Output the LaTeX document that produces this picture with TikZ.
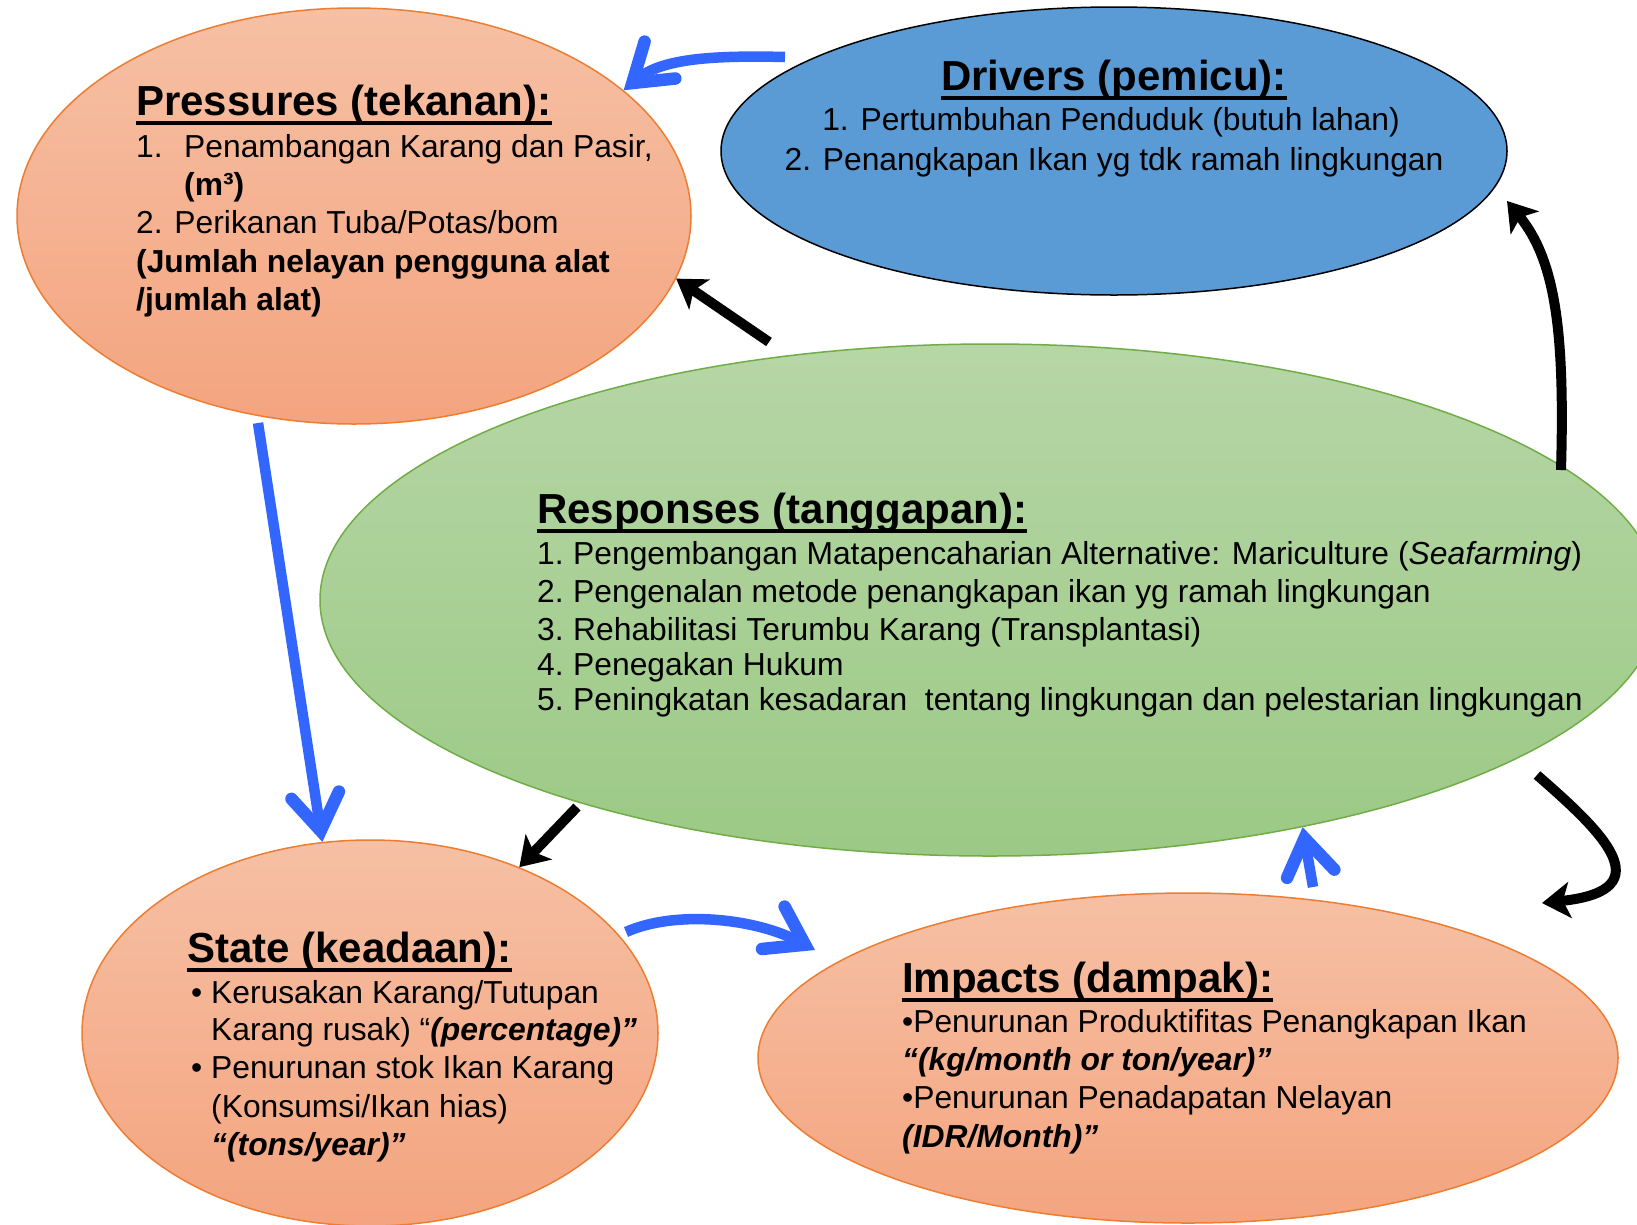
\documentclass[tikz,border=0pt]{standalone}
\usepackage{fontspec}
\setmainfont{Liberation Sans}
\usetikzlibrary{shapes.geometric,arrows.meta}
\definecolor{salmonT}{HTML}{F6C0A4}
\definecolor{salmonB}{HTML}{F4A47F}
\definecolor{salmonL}{HTML}{ED7D31}
\definecolor{greenT}{HTML}{B6D6A6}
\definecolor{greenB}{HTML}{9CC985}
\definecolor{greenL}{HTML}{70AD47}
\definecolor{drvblue}{HTML}{5B9BD5}
\definecolor{arrblue}{HTML}{3366FF}
\newcommand\ttl[1]{\setbox0\hbox{\bfseries #1}\rlap{\rule[-10pt]{\wd0}{4pt}}\box0}
\newcommand\bodysize{\fontsize{31.8}{38}\selectfont}
\newcommand\ttlsize{\fontsize{42}{50}\selectfont\bfseries}
\newcommand\bi[1]{\textbf{\textit{#1}}}
\begin{document}
\begin{tikzpicture}[x=1pt,y=-1pt,
  bubble/.style={ellipse, inner sep=0pt, line width=1.5pt},
  salmon/.style={bubble, draw=salmonL, top color=salmonT, bottom color=salmonB},
  txt/.style={anchor=base west, inner sep=0pt, font=\bodysize},
  ttlnode/.style={anchor=base west, inner sep=0pt, font=\ttlsize},
  bluearrow/.style={draw=arrblue, line width=10.5pt, -{Straight Barb[length=36pt,width=48pt,line width=12.5pt,line cap=round,line join=miter]}},
  blackarrow/.style={draw=black, line width=10pt, -{Stealth[length=28pt,width=36pt,inset=7pt]}}]
\fill[white] (0,0) rectangle (1637,1224);
\useasboundingbox (0,0) rectangle (1637,1224);

% ellipses
\node[salmon, minimum width=674pt, minimum height=416pt] (pres) at (354,216) {};
\node[bubble, draw=black, fill=drvblue, minimum width=786pt, minimum height=288pt] (drv) at (1114,151) {};
\node[bubble, draw=greenL, top color=greenT, bottom color=greenB, minimum width=1340pt, minimum height=512pt] (resp) at (990,600) {};
\node[salmon, minimum width=576pt, minimum height=386pt] (st) at (370,1033) {};
\node[salmon, minimum width=860pt, minimum height=330pt] (imp) at (1188,1058) {};

% free ends
\coordinate (b1s) at (785,57);
\coordinate (b2s) at (258,423);
\coordinate (b3s) at (626,932);
\coordinate (b3e) at (815,950);
\coordinate (b4s) at (1313,887);
\coordinate (k5s) at (769,342);
\coordinate (k6s) at (577,807);
\coordinate (k7s) at (1561,470);
\coordinate (k7e) at (1507,201);
\coordinate (k8s) at (1537,775);
\coordinate (k8e) at (1542,903);

% blue arrows
\draw[bluearrow] (b1s) .. controls (705,55) and (660,60) .. (pres.25);
\draw[bluearrow] (b2s) -- (st.104);
\draw[bluearrow] (b3s) .. controls (675,910) and (755,918) .. (b3e);
\draw[bluearrow] (b4s) -- (resp.-36);

% black arrows
\draw[blackarrow] (k5s) -- (pres.-11);
\draw[blackarrow] (k6s) -- (st.48);
\draw[blackarrow] (k7s) .. controls (1565,330) and (1555,260) .. (k7e);
\draw[blackarrow] (k8s) .. controls (1600,830) and (1665,890) .. (k8e);

% Pressures text
\node[ttlnode] (pt) at (136,115) {\ttl{Pressures (tekanan):}};
\node[txt] (p1) at (136,157) {\makebox[48pt][l]{1.}Penambangan Karang dan Pasir,};
\node[txt] (p2) at (184,195) {\textbf{(m³)}};
\node[txt] (p3) at (136,233) {2. Perikanan Tuba/Potas/bom};
\node[txt] (p4) at (136,272) {\textbf{(Jumlah nelayan pengguna alat}};
\node[txt] (p5) at (136,310) {\textbf{/jumlah alat)}};

% Drivers text
\node[ttlnode, anchor=base] (dt) at (1114,90) {\ttl{Drivers (pemicu):}};
\node[txt, anchor=base] (d1) at (1111,130) {1. Pertumbuhan Penduduk (butuh lahan)};
\node[txt, anchor=base] (d2) at (1114,170) {2. Penangkapan Ikan yg tdk ramah lingkungan};

% Responses text
\node[ttlnode] (rt) at (537,523) {\ttl{Responses (tanggapan):}};
\node[txt] (r1) at (537,564) {\makebox[36pt][l]{1.}Pengembangan Matapencaharian Alternative: Mariculture (\textit{Seafarming})};
\node[txt] (r2) at (537,602) {\makebox[36pt][l]{2.}Pengenalan metode penangkapan ikan yg ramah lingkungan};
\node[txt] (r3) at (537,640) {\makebox[36pt][l]{3.}Rehabilitasi Terumbu Karang (Transplantasi)};
\node[txt] (r4) at (537,675) {\makebox[36pt][l]{4.}Penegakan Hukum};
\node[txt] (r5) at (537,710) {\makebox[36pt][l]{5.}Peningkatan kesadaran\ \ tentang lingkungan dan pelestarian lingkungan};

% State text
\node[ttlnode] (stt) at (187,962) {\ttl{State (keadaan):}};
\node[txt] (s1) at (191,1003) {\makebox[20pt][l]{•}Kerusakan Karang/Tutupan};
\node[txt] (s2) at (211,1040) {Karang rusak) “\bi{(percentage)”}};
\node[txt] (s3) at (191,1078) {\makebox[20pt][l]{•}Penurunan stok Ikan Karang};
\node[txt] (s4) at (211,1117) {(Konsumsi/Ikan hias)};
\node[txt] (s5) at (211,1155) {\bi{“(tons/year)”}};

% Impacts text
\node[ttlnode] (it) at (902,992) {\ttl{Impacts (dampak):}};
\node[txt] (i1) at (902,1032) {•Penurunan Produktifitas Penangkapan Ikan};
\node[txt] (i2) at (902,1070) {\bi{“(kg/month or ton/year)”}};
\node[txt] (i3) at (902,1108) {•Penurunan Penadapatan Nelayan};
\node[txt] (i4) at (902,1147) {\bi{(IDR/Month)”}};
\end{tikzpicture}
\end{document}
